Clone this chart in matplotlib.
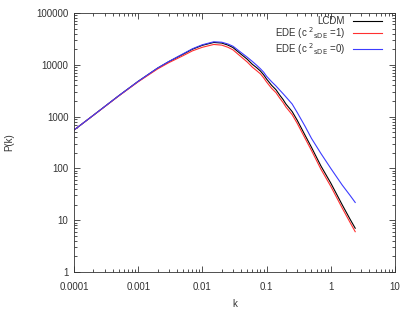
import matplotlib
matplotlib.use("Agg")
import matplotlib.pyplot as plt
from matplotlib.legend import Legend
from matplotlib.ticker import LogLocator, NullFormatter, FixedLocator, FixedFormatter

plt.rcParams['font.family'] = ['Liberation Sans', 'DejaVu Sans']

k = [1e-4, 2e-4, 5e-4, 1e-3, 2e-3, 3e-3, 5e-3, 7e-3, 0.01, 0.015, 0.02, 0.025,
     0.03, 0.04, 0.05, 0.06, 0.07, 0.08, 0.09, 0.1, 0.12, 0.14, 0.16, 0.18, 0.2,
     0.25, 0.3, 0.4, 0.5, 0.7, 1.0, 1.5, 2.0, 2.4]
p_lcdm = [550, 1060, 2540, 4800, 8600, 11500, 16000, 20000, 23800, 27000, 26300, 24000,
          21500, 16000, 12800, 10200, 8800, 7600, 6400, 5300, 4000, 3300, 2600, 2150, 1750,
          1250, 850, 430, 255, 112, 52, 20, 10.4, 7.0]
p_ede1 = [550, 1055, 2510, 4700, 8300, 11000, 15000, 18600, 21800, 24700, 24000, 21800,
          19400, 14300, 11300, 9000, 7700, 6700, 5600, 4650, 3500, 2900, 2280, 1880, 1530,
          1090, 740, 375, 222, 97, 45, 17.3, 9.0, 6.0]
p_ede0 = [550, 1060, 2540, 4800, 8650, 11600, 16300, 20400, 24400, 27800, 27300, 25200,
          22800, 17300, 14000, 11600, 9800, 8400, 7200, 6000, 4700, 3900, 3250, 2780, 2400,
          1750, 1200, 640, 380, 195, 100, 48, 30, 22]

labels = ["LCDM", r"EDE (c $^{2}$$_{\rm sDE}$ =1)", r"EDE (c $^{2}$$_{\rm sDE}$ =0)"]
xticks = [1e-4, 1e-3, 1e-2, 1e-1, 1, 10]
xticklabels = ["0.0001", "0.001", "0.01", "0.1", "1", "10"]
yticks = [1, 10, 100, 1000, 10000, 100000]
yticklabels = ["1", "10", "100", "1000", "10000", "100000"]

fig = plt.figure(figsize=(4.15, 3.12), dpi=100)
ax = fig.add_axes([74/415, 1-272/312, (395-74)/415, (272-13)/312])

l0, = ax.plot(k, p_lcdm, color="black", lw=0.8, label=labels[0])
l1, = ax.plot(k, p_ede1, color="#ff3030", lw=0.8, label=labels[1])
l2, = ax.plot(k, p_ede0, color="#3c3cff", lw=0.8, label=labels[2])

ax.set_xscale("log")
ax.set_yscale("log")
ax.set_xlim(1e-4, 10)
ax.set_ylim(1, 1e5)

ax.xaxis.set_major_locator(FixedLocator(xticks))
ax.xaxis.set_major_formatter(FixedFormatter(xticklabels))
ax.yaxis.set_major_locator(FixedLocator(yticks))
ax.yaxis.set_major_formatter(FixedFormatter(yticklabels))
ax.xaxis.set_minor_locator(LogLocator(base=10, subs=range(2, 10), numticks=20))
ax.yaxis.set_minor_locator(LogLocator(base=10, subs=range(2, 10), numticks=20))
ax.xaxis.set_minor_formatter(NullFormatter())
ax.yaxis.set_minor_formatter(NullFormatter())

ax.tick_params(which="both", direction="in", top=True, right=True,
               labelsize=7, labelcolor="#333333", color="#333333", width=0.6)
ax.tick_params(which="major", length=4)
ax.tick_params(which="minor", length=2)
ax.tick_params(axis="x", pad=7)
ax.tick_params(axis="y", pad=4)
for s in ax.spines.values():
    s.set_linewidth(0.6)
    s.set_color("#333333")

ax.set_xlabel("k", fontsize=7, color="#333333", labelpad=5)
ax.set_ylabel("P(k)", fontsize=7, color="#333333", labelpad=16)

# one legend per entry, so each row sits where the reference puts it
row_y = [21, 33, 49]
x_anchor = (382 - 74) / 321
for line, lab, yy in zip([l0, l1, l2], labels, row_y):
    leg = Legend(ax, [line], [lab], loc="center right",
                 bbox_to_anchor=(x_anchor, (272 - yy) / 259),
                 frameon=False, markerfirst=False, fontsize=7,
                 handlelength=3.0, handletextpad=0.8,
                 borderaxespad=0, borderpad=0, labelcolor="#333333")
    ax.add_artist(leg)

fig.savefig("out.png", dpi=100)
